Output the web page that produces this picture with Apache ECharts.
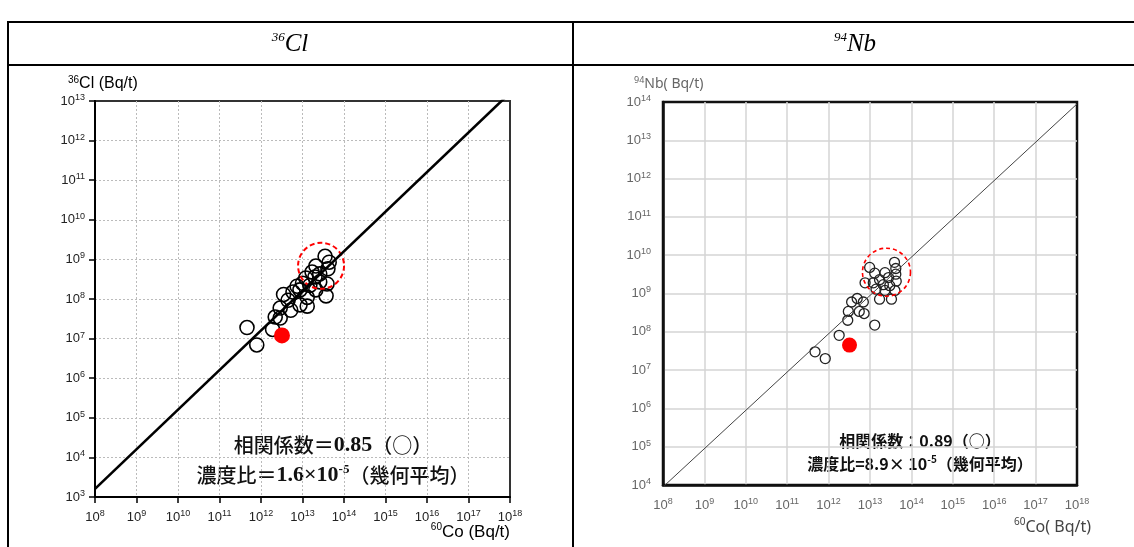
<!DOCTYPE html>
<html>
<head>
<meta charset="utf-8">
<script src="https://cdn.jsdelivr.net/npm/echarts@6/dist/echarts.min.js"></script>
<style>
  html, body { margin: 0; padding: 0; background: #fff; }
  #chart { width: 1134px; height: 547px; }
</style>
</head>
<body>
<div id="chart"></div>
<script>
// left panel: 36Cl vs 60Co (Bq/t)
const clCo60 = [3.5e13, 4.4e13, 2.1e13, 4.1e13, 1.7e13, 2.6e13, 2.0e13, 1.2e13, 1.0e13, 3.9e13,
                2.6e13, 1.5e13, 8.7e12, 7.4e12, 2.1e13, 3.7e13, 1.3e13, 5.9e12, 3.5e12, 4.5e12,
                8.7e12, 2.9e12, 5.2e12, 1.3e13, 2.2e12, 2.9e12, 4.6e11, 1.9e12, 7.9e11];
const clValues = [1.2e9, 8.5e8, 6.8e8, 5.8e8, 4.8e8, 4.3e8, 3.6e8, 3.4e8, 2.5e8, 2.4e8,
                  2.7e8, 2.2e8, 1.7e8, 2.1e8, 1.7e8, 1.2e8, 1.1e8, 1.5e8, 1.3e8, 9.3e7,
                  7.1e7, 5.9e7, 5.2e7, 6.6e7, 3.5e7, 3.3e7, 1.9e7, 1.7e7, 6.9e6];
const clRedPoint = [3.2e12, 1.2e7];
const clCircleCenter = [2.8e13, 6.9e8];
const clRatio = 1.6e-5;

// right panel: 94Nb vs 60Co (Bq/t)
const nbCo60 = [3.9e13, 4.2e13, 9.8e12, 1.3e13, 2.3e13, 2.8e13, 1.7e13, 4.2e13, 4.3e13, 1.2e13,
                7.6e12, 2.1e13, 3.0e13, 1.4e13, 2.3e13, 4.0e13, 1.7e13, 3.3e13, 3.6e12, 4.9e12,
                6.9e12, 3.0e12, 5.5e12, 7.2e12, 2.9e12, 1.3e13, 1.8e12, 4.7e11, 8.3e11];
const nbValues = [6.5e9, 4.5e9, 4.8e9, 3.4e9, 3.5e9, 2.6e9, 2.3e9, 3.2e9, 2.1e9, 1.9e9,
                  1.9e9, 1.7e9, 1.6e9, 1.3e9, 1.2e9, 1.2e9, 7.1e8, 7.1e8, 6.0e8, 7.4e8,
                  6.0e8, 3.4e8, 3.4e8, 3.0e8, 2.0e8, 1.5e8, 8.1e7, 3.0e7, 2.0e7];
const nbRedPoint = [3.2e12, 4.5e7];
const nbCircleCenter = [2.5e13, 3.6e9];
const nbRatio = 8.9e-5;

const coRange = [1e8, 1e18];
const clRange = [1e3, 1e13];
const nbRange = [1e4, 1e14];

const chart = echarts.init(document.getElementById('chart'));

function pairs(xs, ys) {
    return xs.map((x, i) => [x, ys[i]]);
}

function powLabel(color, size) {
    return {
        formatter: v => '{b|10}{e|' + Math.round(Math.log10(v)) + '}',
        rich: {
            b: { fontSize: size, color: color, fontFamily: 'Liberation Sans', lineHeight: size + 3 },
            e: { fontSize: size - 4, color: color, fontFamily: 'Liberation Sans', verticalAlign: 'top', lineHeight: size - 3 }
        }
    };
}

const leftLabel = powLabel('#222', 13);
const rightLabel = powLabel('#666', 13);

const leftSplit = { show: true, showMinLine: false, showMaxLine: false, lineStyle: { color: '#bbb', type: [2, 2], width: 1 } };
const rightSplit = { show: true, showMinLine: false, showMaxLine: false, lineStyle: { color: '#d4d4d4', width: 1.5 } };

const option = {
    animation: false,
    grid: [
        { left: 95, top: 101, width: 415, height: 396, show: true, borderColor: '#333', borderWidth: 2 },
        { left: 663, top: 102, width: 414, height: 383, show: true, borderColor: '#111', borderWidth: 2.5 }
    ],
    xAxis: [
        {
            gridIndex: 0, type: 'log', logBase: 10, min: coRange[0], max: coRange[1], interval: 1, splitNumber: 10,
            axisLine: { show: true, onZero: false, lineStyle: { color: '#000', width: 2 } },
            axisTick: { show: true, length: 6, lineStyle: { color: '#000', width: 1.5 } },
            axisLabel: Object.assign({ margin: 12 }, leftLabel),
            splitLine: leftSplit
        },
        {
            gridIndex: 1, type: 'log', logBase: 10, min: coRange[0], max: coRange[1], interval: 1, splitNumber: 10,
            axisLine: { show: true, onZero: false, lineStyle: { color: '#111', width: 2.5 } },
            axisTick: { show: false },
            axisLabel: Object.assign({ margin: 12 }, rightLabel),
            splitLine: rightSplit
        }
    ],
    yAxis: [
        {
            gridIndex: 0, type: 'log', logBase: 10, min: clRange[0], max: clRange[1], interval: 1, splitNumber: 10,
            axisLine: { show: true, onZero: false, lineStyle: { color: '#000', width: 2 } },
            axisTick: { show: true, length: 6, lineStyle: { color: '#000', width: 1.5 } },
            axisLabel: Object.assign({ margin: 10 }, leftLabel),
            splitLine: leftSplit
        },
        {
            gridIndex: 1, type: 'log', logBase: 10, min: nbRange[0], max: nbRange[1], interval: 1, splitNumber: 10,
            axisLine: { show: true, onZero: false, lineStyle: { color: '#111', width: 2.5 } },
            axisTick: { show: false },
            axisLabel: Object.assign({ margin: 12 }, rightLabel),
            splitLine: rightSplit
        }
    ],
    series: [
        {
            type: 'scatter', xAxisIndex: 0, yAxisIndex: 0, symbolSize: 14,
            itemStyle: { color: 'transparent', borderColor: '#000', borderWidth: 1.6, opacity: 1 },
            data: pairs(clCo60, clValues)
        },
        {
            type: 'scatter', xAxisIndex: 0, yAxisIndex: 0, symbolSize: 16,
            itemStyle: { color: '#f00', opacity: 1 },
            data: [clRedPoint]
        },
        {
            type: 'scatter', xAxisIndex: 0, yAxisIndex: 0, symbolSize: 46,
            itemStyle: { color: 'transparent', borderColor: '#f00', borderWidth: 2, borderType: [5, 3], opacity: 1 },
            data: [clCircleCenter]
        },
        {
            type: 'line', xAxisIndex: 0, yAxisIndex: 0, showSymbol: false, clip: true,
            lineStyle: { color: '#000', width: 2.6 },
            data: coRange.map(x => [x, x * clRatio])
        },
        {
            type: 'scatter', xAxisIndex: 1, yAxisIndex: 1, symbolSize: 10,
            itemStyle: { color: 'transparent', borderColor: '#222', borderWidth: 1.3, opacity: 1 },
            data: pairs(nbCo60, nbValues)
        },
        {
            type: 'scatter', xAxisIndex: 1, yAxisIndex: 1, symbolSize: 15,
            itemStyle: { color: '#f00', opacity: 1 },
            data: [nbRedPoint]
        },
        {
            type: 'scatter', xAxisIndex: 1, yAxisIndex: 1, symbolSize: 48,
            itemStyle: { color: 'transparent', borderColor: '#f00', borderWidth: 1.6, borderType: [4, 3], opacity: 1 },
            data: [nbCircleCenter]
        },
        {
            type: 'line', xAxisIndex: 1, yAxisIndex: 1, showSymbol: false, clip: true,
            lineStyle: { color: '#444', width: 1 },
            data: coRange.map(x => [x, x * nbRatio])
        }
    ],
    graphic: [
        // table rules
        { type: 'line', shape: { x1: 7, y1: 22, x2: 1134, y2: 22 }, style: { stroke: '#000', lineWidth: 2 } },
        { type: 'line', shape: { x1: 7, y1: 65, x2: 1134, y2: 65 }, style: { stroke: '#000', lineWidth: 2 } },
        { type: 'line', shape: { x1: 8, y1: 21, x2: 8, y2: 547 }, style: { stroke: '#000', lineWidth: 2 } },
        { type: 'line', shape: { x1: 573, y1: 21, x2: 573, y2: 547 }, style: { stroke: '#000', lineWidth: 2 } },
        // header cells
        {
            type: 'text', x: 290, y: 44,
            style: {
                text: '{s|36}{m|Cl}', align: 'center', verticalAlign: 'middle',
                rich: {
                    s: { fontSize: 13, fontStyle: 'italic', fontFamily: 'Liberation Serif', verticalAlign: 'top', lineHeight: 12 },
                    m: { fontSize: 25, fontStyle: 'italic', fontFamily: 'Liberation Serif', lineHeight: 26 }
                }
            }
        },
        {
            type: 'text', x: 855, y: 44,
            style: {
                text: '{s|94}{m|Nb}', align: 'center', verticalAlign: 'middle',
                rich: {
                    s: { fontSize: 13, fontStyle: 'italic', fontFamily: 'Liberation Serif', verticalAlign: 'top', lineHeight: 12 },
                    m: { fontSize: 25, fontStyle: 'italic', fontFamily: 'Liberation Serif', lineHeight: 26 }
                }
            }
        },
        // axis titles
        {
            type: 'text', x: 68, y: 84,
            style: {
                text: '{s|36}{m|Cl (Bq/t)}', align: 'left', verticalAlign: 'middle',
                rich: {
                    s: { fontSize: 10, fontFamily: 'Liberation Sans', verticalAlign: 'top', lineHeight: 10, fill: '#000' },
                    m: { fontSize: 16, fontFamily: 'Liberation Sans', lineHeight: 18, fill: '#000' }
                }
            }
        },
        {
            type: 'text', x: 510, y: 532,
            style: {
                text: '{s|60}{m|Co (Bq/t)}', align: 'right', verticalAlign: 'middle',
                rich: {
                    s: { fontSize: 10, fontFamily: 'Liberation Sans', verticalAlign: 'top', lineHeight: 10, fill: '#000' },
                    m: { fontSize: 17, fontFamily: 'Liberation Sans', lineHeight: 19, fill: '#000' }
                }
            }
        },
        {
            type: 'text', x: 634, y: 84,
            style: {
                text: '{s|94}{m|Nb( Bq/t)}', align: 'left', verticalAlign: 'middle',
                rich: {
                    s: { fontSize: 9, fontFamily: 'Noto Sans', verticalAlign: 'top', lineHeight: 9, fill: '#666' },
                    m: { fontSize: 14, fontFamily: 'Noto Sans', lineHeight: 17, fill: '#666' }
                }
            }
        },
        {
            type: 'text', x: 1091, y: 527,
            style: {
                text: '{s|60}{m|Co( Bq/t)}', align: 'right', verticalAlign: 'middle',
                rich: {
                    s: { fontSize: 10, fontFamily: 'Noto Sans', verticalAlign: 'top', lineHeight: 10, fill: '#444' },
                    m: { fontSize: 16, fontFamily: 'Noto Sans', lineHeight: 19, fill: '#444' }
                }
            }
        },
        // left annotations
        {
            type: 'text', x: 333, y: 445,
            style: {
                text: '{j|相関係数＝}{n|0.85}{j|（○）}', align: 'center', verticalAlign: 'middle',
                rich: {
                    j: { fontSize: 20, fontFamily: 'Noto Sans CJK JP', fontWeight: 500, fill: '#111', lineHeight: 24 },
                    n: { fontSize: 22, fontFamily: 'Liberation Serif', fontWeight: 'bold', fill: '#111', lineHeight: 24 }
                }
            }
        },
        {
            type: 'text', x: 333, y: 475,
            style: {
                text: '{j|濃度比＝}{n|1.6×10}{e|-5}{j|（幾何平均）}', align: 'center', verticalAlign: 'middle',
                rich: {
                    j: { fontSize: 20, fontFamily: 'Noto Sans CJK JP', fontWeight: 500, fill: '#111', lineHeight: 24 },
                    n: { fontSize: 22, fontFamily: 'Liberation Serif', fontWeight: 'bold', fill: '#111', lineHeight: 24 },
                    e: { fontSize: 13, fontFamily: 'Liberation Serif', fontWeight: 'bold', fill: '#111', verticalAlign: 'top', lineHeight: 14 }
                }
            }
        },
        // right annotations
        {
            type: 'text', x: 920, y: 441,
            style: {
                text: '相関係数：0.89（○）', align: 'center', verticalAlign: 'middle',
                fontSize: 16, fontFamily: 'Noto Sans CJK JP', fontWeight: 'bold', fill: '#111'
            }
        },
        {
            type: 'text', x: 920, y: 464,
            style: {
                text: '{j|濃度比=8.9× 10}{e|-5}{j|（幾何平均）}', align: 'center', verticalAlign: 'middle',
                rich: {
                    j: { fontSize: 16, fontFamily: 'Noto Sans CJK JP', fontWeight: 'bold', fill: '#111', lineHeight: 20 },
                    e: { fontSize: 10, fontFamily: 'Noto Sans CJK JP', fontWeight: 'bold', fill: '#111', verticalAlign: 'top', lineHeight: 11 }
                }
            }
        }
    ]
};

chart.setOption(option);
</script>
</body>
</html>
